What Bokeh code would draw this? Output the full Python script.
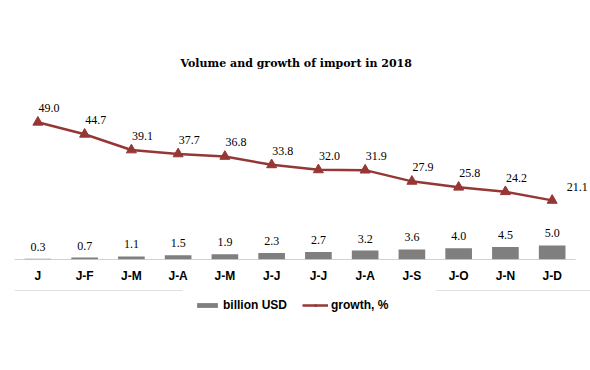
from bokeh.plotting import figure
from bokeh.layouts import column
from bokeh.models import ColumnDataSource, Range1d, Legend, LegendItem, LabelSet, FixedTicker
from bokeh.embed import file_html
from bokeh.resources import INLINE

tick_labels = ["J", "J-F", "J-M", "J-A", "J-M", "J-J", "J-J", "J-A", "J-S", "J-O", "J-N", "J-D"]
volume = [0.3, 0.7, 1.1, 1.5, 1.9, 2.3, 2.7, 3.2, 3.6, 4.0, 4.5, 5.0]
growth = [49.0, 44.7, 39.1, 37.7, 36.8, 33.8, 32.0, 31.9, 27.9, 25.8, 24.2, 21.1]
series_names = ["billion USD", "growth, %"]

BAR = "#7f7f7f"
LINE = "#953735"
NUMFONT = "DejaVu Serif"
CATFONT = "Liberation Sans"

xs = list(range(len(tick_labels)))
n = len(xs)
src = ColumnDataSource(dict(
    x=xs,
    vol=volume,
    gr=growth,
    vol_t=[f"{v:.1f}" for v in volume],
    gr_t=[f"{v:.1f}" for v in growth],
    gx_off=[11] * (n - 1) + [25],
    gy_off=[14] * (n - 1) + [13],
))

pad = 0.32  # extra room on the right for the last label
p = figure(frame_width=576, frame_height=179, output_backend="svg", toolbar_location=None,
           x_range=Range1d(-0.5, n - 0.5 + pad), y_range=Range1d(0, 63.9),
           min_border_left=14, min_border_right=0, min_border_top=80, min_border_bottom=31,
           title="Volume and growth of import in 2018")
p.title.align = "left"
p.title.offset = 166
p.title.standoff = 21
p.title.text_font = NUMFONT
p.title.text_font_size = "11px"
p.title.text_font_style = "bold"
p.title.text_color = "#000000"

p.outline_line_color = None
p.grid.visible = False
p.yaxis.visible = False
p.background_fill_color = "white"

bars = p.vbar(x="x", top="vol", width=0.57, source=src, fill_color=BAR, line_color=None)
p.segment(x0=-0.5, y0=0, x1=n - 0.5, y1=0, line_color="#a6a6a6", line_width=1)
ln = p.line(x="x", y="gr", source=src, line_color=LINE, line_width=2.5)
mk = p.scatter(x="x", y="gr", source=src, marker="triangle", size=10,
               fill_color=LINE, line_color=LINE)

p.add_layout(LabelSet(x="x", y="vol", text="vol_t", source=src, y_offset=12,
                      text_align="center", text_baseline="middle",
                      text_font=NUMFONT, text_font_size="12px", text_color="#000000"))
p.add_layout(LabelSet(x="x", y="gr", text="gr_t", source=src, x_offset="gx_off", y_offset="gy_off",
                      text_align="center", text_baseline="middle",
                      text_font=NUMFONT, text_font_size="12px", text_color="#000000"))

ax = p.xaxis[0]
ax.ticker = FixedTicker(ticks=xs)
ax.major_label_overrides = {i: t for i, t in zip(xs, tick_labels)}
ax.major_tick_line_color = None
ax.minor_tick_line_color = None
ax.axis_line_color = None
ax.major_label_standoff = 3
ax.major_label_text_font = CATFONT
ax.major_label_text_font_size = "12px"
ax.major_label_text_font_style = "bold"
ax.major_label_text_color = "#000000"

# legend strip below the chart: same series and styles, view range kept away
# from the data so only the legend shows
lg = figure(frame_width=590, frame_height=80, output_backend="svg", toolbar_location=None,
            x_range=Range1d(0, 1), y_range=Range1d(-2, -1),
            min_border_left=0, min_border_right=0, min_border_top=0, min_border_bottom=0)
lg.outline_line_color = None
lg.grid.visible = False
lg.axis.visible = False
lb = lg.vbar(x="x", top="vol", width=0.57, source=src, fill_color=BAR, line_color=None)
ll = lg.line(x="x", y="gr", source=src, line_color=LINE, line_width=2.5)
lm = lg.scatter(x="x", y="gr", source=src, marker="triangle", size=10,
                fill_color=LINE, line_color=LINE)
legend = Legend(items=[LegendItem(label=series_names[0], renderers=[lb]),
                       LegendItem(label=series_names[1], renderers=[ll, lm])],
                orientation="horizontal", location=(194, 58),
                border_line_color=None, background_fill_alpha=0,
                glyph_width=26, glyph_height=6, label_height=14,
                label_text_font=CATFONT, label_text_font_size="12px",
                label_text_font_style="bold", label_text_color="#000000",
                spacing=15, margin=0, padding=0, label_standoff=3)
lg.add_layout(legend, "center")

layout = column(p, lg, spacing=0)
open("out.html", "w").write(file_html(layout, INLINE))
